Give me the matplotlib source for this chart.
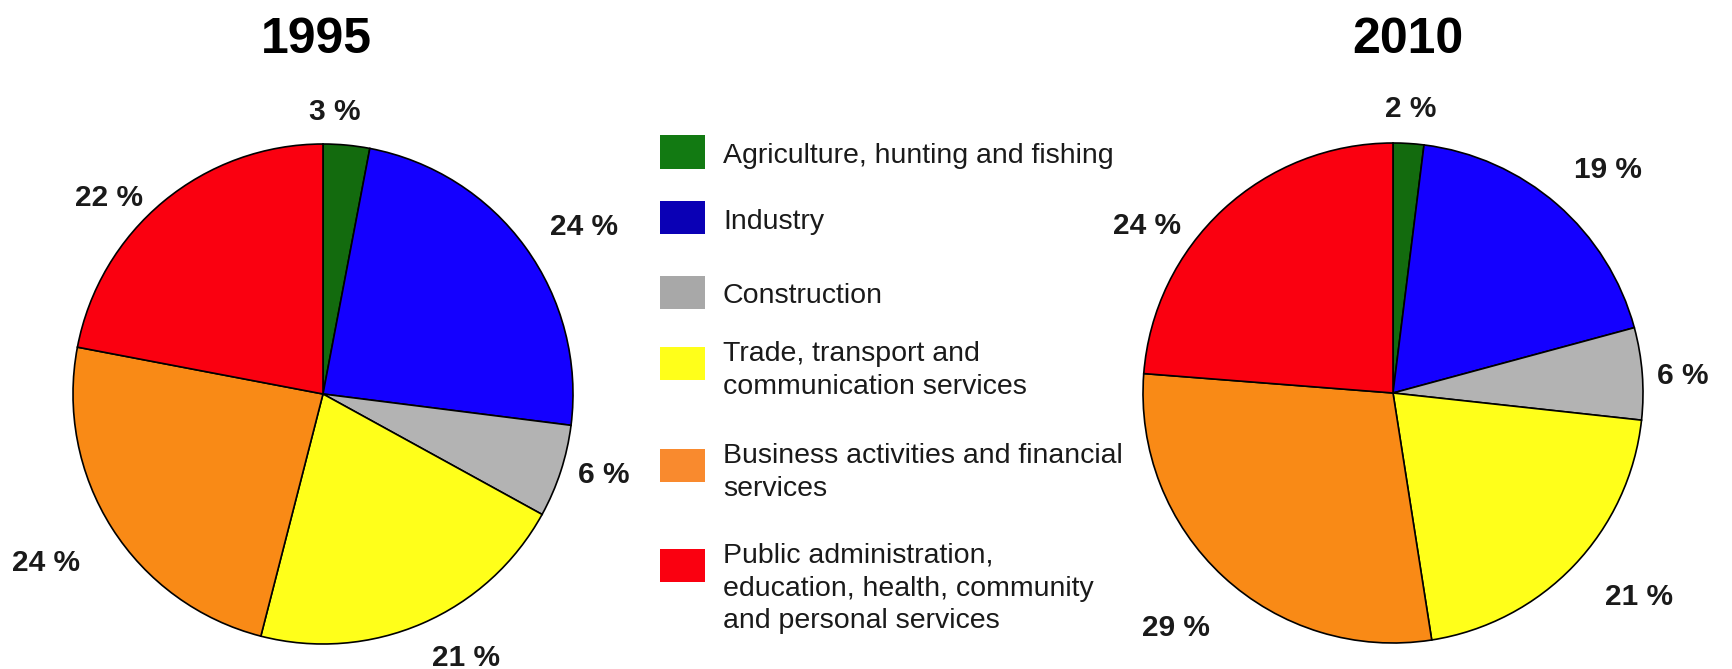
import matplotlib
matplotlib.use("Agg")
import numpy as np
import matplotlib.pyplot as plt
from matplotlib.patches import Rectangle

plt.rcParams['font.family'] = ['Liberation Sans', 'DejaVu Sans']

# data
sectors = ["Agriculture, hunting and fishing",
           "Industry",
           "Construction",
           "Trade, transport and\ncommunication services",
           "Business activities and financial\nservices",
           "Public administration,\neducation, health, community\nand personal services"]
years = ["1995", "2010"]
share_1995 = [3, 24, 6, 21, 24, 22]
share_2010 = [2, 19, 6, 21, 29, 24]

pie_colors = ["#136b0e", "#1400ff", "#b3b3b3", "#ffff1a", "#f98a16", "#fa0010"]
legend_colors = ["#127a12", "#0a00b5", "#a8a8a8", "#ffff1a", "#f98a2e", "#fa0010"]

W, H = 1732, 669
fig = plt.figure(figsize=(W / 100, H / 100), dpi=100)

# pie placement in pixels (center x, center y from top, radius)
pies = [(323, 394, 250), (1393, 393, 250)]
# label distance (in radii) and angle nudge (deg) per slice
lab_dist = [[1.13, 1.24, 1.17, 1.2, 1.3, 1.16],
            [1.14, 1.24, 1.16, 1.28, 1.28, 1.19]]
lab_nudge = [[3, -3.5, 2, 5, -1, 8],
             [0, -3, -1, 4, 0, 13]]
title_x = [316, 1408]

for k, (vals, year) in enumerate(zip([share_1995, share_2010], years)):
    cx, cy, r = pies[k]
    ax = fig.add_axes([(cx - r) / W, (H - cy - r) / H, 2 * r / W, 2 * r / H])
    wedges, _ = ax.pie(vals, colors=pie_colors, startangle=90, counterclock=False,
                       wedgeprops=dict(edgecolor="black", linewidth=1.2))
    ax.set_xlim(-1, 1)
    ax.set_ylim(-1, 1)
    ax.axis("off")
    for i, w in enumerate(wedges):
        ang = np.deg2rad((w.theta1 + w.theta2) / 2 + lab_nudge[k][i])
        d = lab_dist[k][i]
        ax.text(d * np.cos(ang), d * np.sin(ang), f"{vals[i]} %",
                ha="center", va="center", fontsize=21.5, fontweight="bold",
                color="#1a1a1a")
    fig.text(title_x[k] / W, 1 - 40 / H, year, ha="center", va="center",
             fontsize=36, fontweight="bold", color="black")

# legend
legend_y = [152, 218, 292, 363, 465, 565]
for i, name in enumerate(sectors):
    yc = legend_y[i]
    fig.patches.append(Rectangle((660 / W, 1 - (yc + 16.5) / H), 45 / W, 33 / H,
                                 transform=fig.transFigure, facecolor=legend_colors[i],
                                 edgecolor="none"))
    if "\n" in name:
        fig.text(723 / W, 1 - (yc - 22) / H, name, ha="left", va="top",
                 fontsize=20.5, color="#1a1a1a", linespacing=1.33)
    else:
        fig.text(723 / W, 1 - (yc + 4) / H, name, ha="left", va="center",
                 fontsize=20.5, color="#1a1a1a")

plt.savefig("out.png", dpi=100)
